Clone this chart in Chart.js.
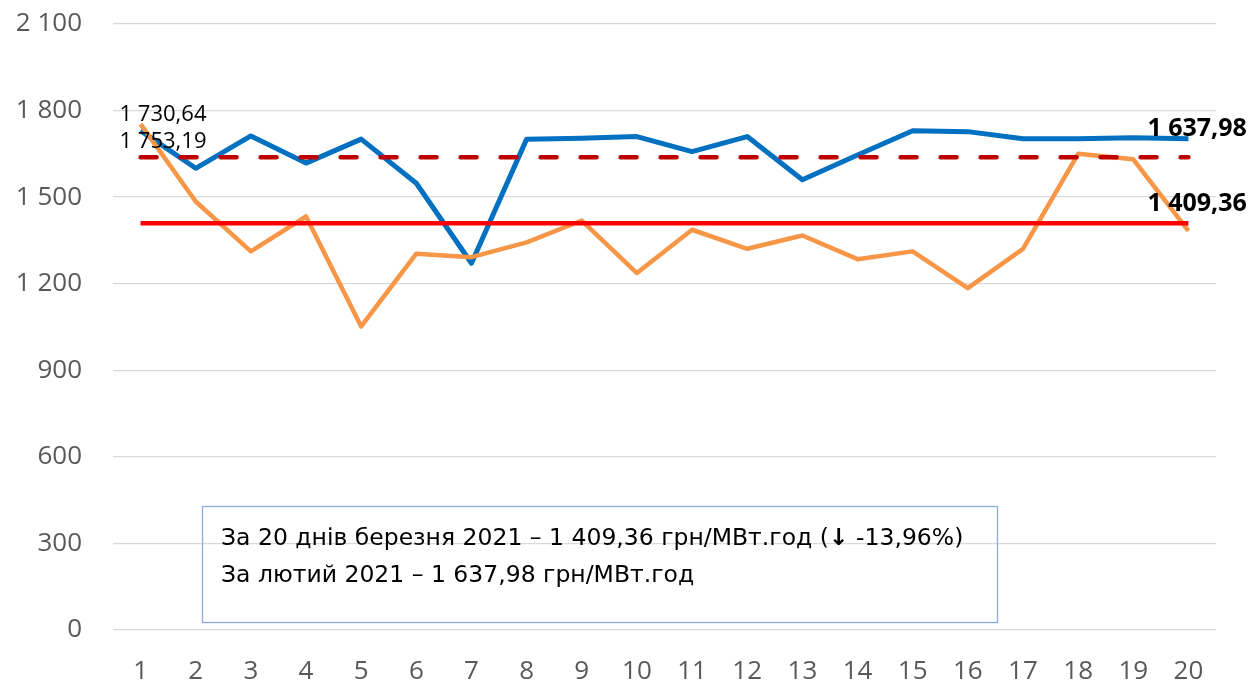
<!DOCTYPE html>
<html>
<head>
<meta charset="utf-8">
<script src="https://cdn.jsdelivr.net/npm/chart.js@4.4.1/dist/chart.umd.min.js"></script>
<style>
  html, body { margin: 0; padding: 0; background: #fff; }
  #wrap { position: relative; width: 1251px; height: 685px; }
</style>
</head>
<body>
<div id="wrap"><canvas id="chart"></canvas></div>
<script>
// days of the month
const days = ['1', '2', '3', '4', '5', '6', '7', '8', '9', '10',
              '11', '12', '13', '14', '15', '16', '17', '18', '19', '20'];

// daily price, February 2021 (blue)
const february = [1730.64, 1600, 1712, 1618, 1701, 1548, 1271, 1701, 1704, 1710,
                  1658, 1710, 1560, 1646, 1730, 1727, 1702, 1702, 1706, 1702];

// daily price, March 2021 (orange)
const march = [1753.19, 1485, 1312, 1433, 1052, 1304, 1292, 1343, 1419, 1237,
               1387, 1321, 1367, 1285, 1312, 1185, 1321, 1650, 1631, 1383];

// monthly averages
const avgFebruary = 1637.98;
const avgMarch = 1409.36;

// y axis
const yMin = 0;
const yMax = 2100;
const yStep = 300;

const noteLine1 = ['За 20 днів березня 2021 – 1 409,36 грн/МВт.год (', '↓', ' -13,96%)'];
const noteLine2 = 'За лютий 2021 – 1 637,98 грн/МВт.год';

const FONT = "'Open Sans', 'Noto Sans', sans-serif";
const NOTE_FONT = "'DejaVu Sans', sans-serif";

function fmt(v, dec) {
    let s = v.toFixed(dec);
    let parts = s.split('.');
    let int = parts[0].replace(/\B(?=(\d{3})+(?!\d))/g, ' ');
    return parts.length > 1 ? int + ',' + parts[1] : int;
}

// labels next to particular points
const pointLabels = [
    { dataset: 0, index: 0, text: fmt(february[0], 2), dx: -21, dy: -16, bold: false },
    { dataset: 1, index: 0, text: fmt(march[0], 2), dx: -21, dy: 18, bold: false },
    { dataset: 2, index: 19, text: fmt(avgFebruary, 2), dx: -41, dy: -28, bold: true },
    { dataset: 3, index: 19, text: fmt(avgMarch, 2), dx: -41, dy: -19, bold: true }
];

const labelPlugin = {
    id: 'pointLabels',
    afterDatasetsDraw(chart) {
        let ctx = chart.ctx;
        ctx.save();
        ctx.fillStyle = '#000';
        ctx.textAlign = 'left';
        ctx.textBaseline = 'middle';
        pointLabels.forEach(function (l) {
            let pt = chart.getDatasetMeta(l.dataset).data[l.index];
            ctx.font = (l.bold ? 'bold 25px ' : '22px ') + FONT;
            ctx.fillText(l.text, pt.x + l.dx, pt.y + l.dy);
        });
        ctx.restore();
    }
};

const notePlugin = {
    id: 'noteBox',
    afterDraw(chart) {
        let ctx = chart.ctx;
        ctx.save();
        ctx.strokeStyle = '#8FAADC';
        ctx.lineWidth = 1.3;
        ctx.strokeRect(202.5, 506.5, 795, 116);

        ctx.fillStyle = '#000';
        ctx.textAlign = 'left';
        ctx.textBaseline = 'alphabetic';
        let x = 221;
        noteLine1.forEach(function (part, i) {
            ctx.font = (i === 1 ? 'bold 23.5px ' : '23.5px ') + NOTE_FONT;
            ctx.fillText(part, x, 544.5);
            x += ctx.measureText(part).width;
        });
        ctx.font = '23.5px ' + NOTE_FONT;
        ctx.fillText(noteLine2, 221, 581.5);
        ctx.restore();
    }
};

new Chart(document.getElementById('chart'), {
    type: 'line',
    data: {
        labels: days,
        datasets: [
            {
                label: 'Лютий 2021',
                data: february,
                borderColor: '#0070C0',
                borderWidth: 5,
                order: 4
            },
            {
                label: 'Березень 2021',
                data: march,
                borderColor: '#F79646',
                borderWidth: 4.5,
                order: 3
            },
            {
                label: 'Середня за лютий',
                data: days.map(() => avgFebruary),
                borderColor: '#C00000',
                borderWidth: 4.5,
                borderDash: [16, 24],
                borderCapStyle: 'round',
                order: 2
            },
            {
                label: 'Середня за березень',
                data: days.map(() => avgMarch),
                borderColor: '#FF0000',
                borderWidth: 4.5,
                order: 1
            }
        ]
    },
    options: {
        responsive: true,
        maintainAspectRatio: false,
        animation: false,
        elements: {
            point: { radius: 0, hoverRadius: 0 },
            line: { tension: 0, borderJoinStyle: 'round' }
        },
        layout: { padding: { top: 24, right: 35, bottom: 0, left: 0 } },
        plugins: {
            legend: { display: false },
            tooltip: { enabled: false }
        },
        scales: {
            x: {
                offset: true,
                grid: { display: false, drawTicks: false },
                border: { display: false },
                ticks: {
                    color: '#595959',
                    font: { family: FONT, size: 26 },
                    padding: 26,
                    maxRotation: 0,
                    autoSkip: false
                },
                afterFit(scale) { scale.height = 55; }
            },
            y: {
                min: yMin,
                max: yMax,
                grid: {
                    color: '#D9D9D9',
                    lineWidth: 1.3,
                    drawTicks: true,
                    tickLength: 31,
                    tickColor: 'rgba(0,0,0,0)'
                },
                border: { display: false },
                ticks: {
                    stepSize: yStep,
                    color: '#595959',
                    font: { family: FONT, size: 26 },
                    padding: 0,
                    callback: v => fmt(v, 0)
                },
                afterFit(scale) { scale.width = 113; }
            }
        }
    },
    plugins: [labelPlugin, notePlugin]
});
</script>
</body>
</html>
